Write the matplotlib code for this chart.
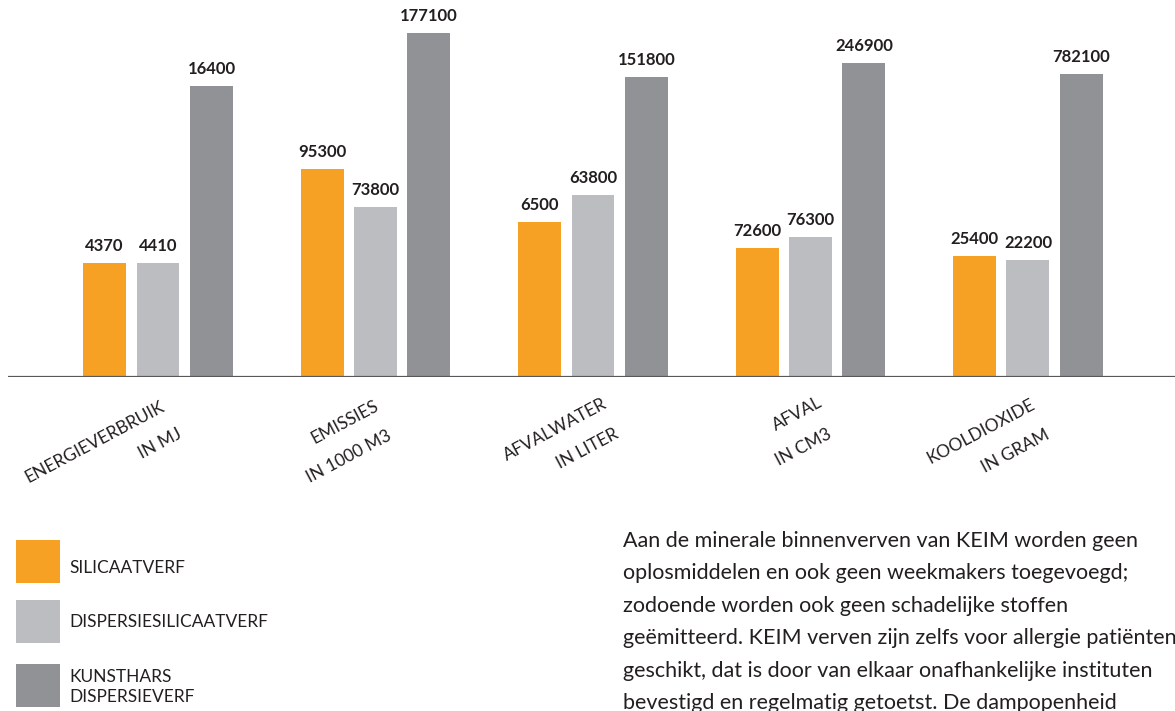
import matplotlib
matplotlib.use('Agg')
import matplotlib.pyplot as plt
from matplotlib.patches import Rectangle

plt.rcParams['font.family'] = ['Lato', 'DejaVu Sans']

# categorieen (twee regels per label)
cat_top = ['ENERGIEVERBRUIK', 'EMISSIES', 'AFVALWATER', 'AFVAL', 'KOOLDIOXIDE']
cat_bottom = ['IN MJ', 'IN 1000 M3', 'IN LITER', 'IN CM3', 'IN GRAM']

series = ['SILICAATVERF', 'DISPERSIESILICAATVERF', 'KUNSTHARS\nDISPERSIEVERF']

# balkhoogtes zoals (niet op schaal met de getallen)
h_silicaat = [114, 208, 155, 129, 121]
h_dispsil = [114, 170, 182, 140, 117]
h_kunsthars = [291, 344, 300, 314, 303]

# getoonde waarden boven de balken
v_silicaat = ['4370', '95300', '6500', '72600', '25400']
v_dispsil = ['4410', '73800', '63800', '76300', '22200']
v_kunsthars = ['16400', '177100', '151800', '246900', '782100']

tekst = ("Aan de minerale binnenverven van KEIM worden geen\n"
         "oplosmiddelen en ook geen weekmakers toegevoegd;\n"
         "zodoende worden ook geen schadelijke stoffen\n"
         "geëmitteerd. KEIM verven zijn zelfs voor allergie patiënten\n"
         "geschikt, dat is door van elkaar onafhankelijke instituten\n"
         "bevestigd en regelmatig getoetst. De dampopenheid")

colors = ['#f6a123', '#bcbdc0', '#919295']
txt_color = '#231f20'

W, H = 1175, 711
fig = plt.figure(figsize=(W / 100, H / 100), dpi=100)
ax = fig.add_axes([8 / W, (H - 377) / H, (W - 8) / W, 377 / H])

x = list(range(len(cat_top)))
bw = 0.1975
off = 0.2457
heights = [h_silicaat, h_dispsil, h_kunsthars]
values = [v_silicaat, v_dispsil, v_kunsthars]
for k in range(3):
    xs = [i + (k - 1) * off for i in x]
    ax.bar(xs, heights[k], width=bw, color=colors[k], linewidth=0, zorder=2)
    for xi, hi, vi in zip(xs, heights[k], values[k]):
        ax.annotate(vi, (xi, hi), xytext=(0, 12), textcoords='offset pixels',
                    ha='center', va='baseline', fontsize=12, fontweight='bold',
                    color=txt_color)

ax.axhline(0, color='#58585a', lw=1.6, zorder=3)
ax.set_xlim(-0.6897, 4.676)
ax.set_ylim(0, 377)
ax.axis('off')

# label posities (pixels t.o.v. groepsmidden op de basislijn)
off_top = [(-63, 65), (-31, 45), (-38, 53), (-13, 37), (-47, 54)]
off_bot = [(2, 67), (-27, 80), (-5, 72), (-7, 70), (-12, 74)]
for i in x:
    for lab, (dx, dy) in ((cat_top[i], off_top[i]), (cat_bottom[i], off_bot[i])):
        ax.annotate(lab, (i, 0), xytext=(dx, -dy), textcoords='offset pixels',
                    rotation=28, rotation_mode='anchor', ha='center', va='center',
                    fontsize=12.5, color=txt_color, annotation_clip=False)

# legenda
box_top = [540, 600, 664]
text_y = [568, 622, 687]
for k in range(3):
    fig.add_artist(Rectangle((16 / W, 1 - (box_top[k] + 43) / H), 44 / W, 43 / H,
                             transform=fig.transFigure, color=colors[k], lw=0))
    fig.text(69 / W, 1 - text_y[k] / H, series[k], ha='left', va='center',
             fontsize=12.5, color=txt_color, linespacing=1.3)

fig.text(623 / W, 1 - 531 / H, tekst, ha='left', va='top', fontsize=15.5,
         color=txt_color, linespacing=1.78)

fig.savefig('out.png', dpi=100)
